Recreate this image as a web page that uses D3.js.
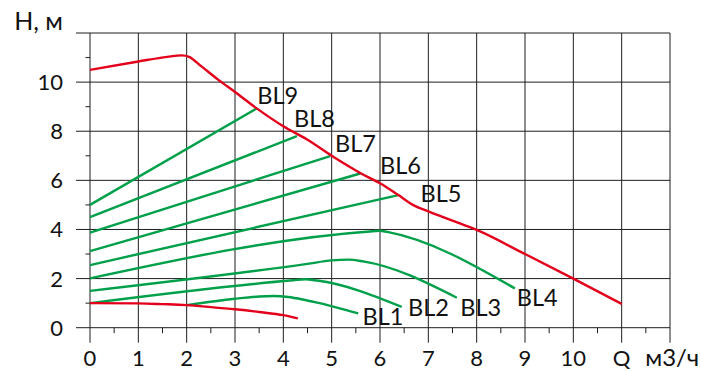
<!DOCTYPE html>
<html>
<head>
<meta charset="utf-8">
<script src="https://cdn.jsdelivr.net/npm/d3@7"></script>
<style>
  html, body { margin: 0; padding: 0; background: #fff; }
  svg { display: block; }
  text { font-family: Lato, "Open Sans", sans-serif; fill: #111; }
</style>
</head>
<body>
<svg id="chart" width="701" height="371"></svg>
<script>
// ---- data ----
const xTicks = [0,1,2,3,4,5,6,7,8,9,10,11,12];
const xTickLabels = ["0","1","2","3","4","5","6","7","8","9","10","Q","м3/ч"];
const yTicks = [0,2,4,6,8,10,12];
const yTickLabels = ["0","2","4","6","8","10",""];
const yTitle = "H, м";

const maxCurve = [[0,10.5],[1,10.84],[1.6,11.03],[1.9,11.09],[2.05,11.03],[2.3,10.65],[2.65,10.1],[3,9.6],[3.45,8.93],[4.0,8.2],[4.5,7.65],[5,7.0],[5.59,6.3],[6,5.88],[6.38,5.4],[6.7,4.98],[7,4.74],[7.5,4.36],[8,3.98],[9,3.0],[10,2.0],[11,0.97]];
const minCurve = [[0,1.0],[1,0.99],[1.5,0.96],[2,0.92],[2.5,0.84],[3,0.75],[3.5,0.64],[4,0.51],[4.3,0.38]];

const seriesNames = ["BL1","BL2","BL3","BL4","BL5","BL6","BL7","BL8","BL9"];
const bl1 = [[2,0.92],[3,1.18],[3.5,1.27],[3.8,1.29],[4.1,1.25],[4.4,1.15],[4.7,1.02],[5.55,0.58]];
const bl2 = [[0,1.0],[4.2,1.93],[4.45,1.97],[4.7,1.92],[6.45,0.85]];
const bl3 = [[0,1.5],[4.5,2.6],[5.0,2.74],[5.35,2.77],[5.65,2.7],[7.59,1.22]];
const bl4 = [[0,2.01],[5.85,3.93],[6.0,3.95],[6.15,3.9],[8.79,1.6]];
const bl5 = [[0,2.55],[6.38,5.4]];
const bl6 = [[0,3.12],[5.59,6.28]];
const bl7 = [[0,3.87],[4.97,6.99]];
const bl8 = [[0,4.5],[4.28,7.8]];
const bl9 = [[0,5.0],[3.45,8.93]];
const greenSeries = [bl1,bl2,bl3,bl4,bl5,bl6,bl7,bl8,bl9];
// label anchor points in data units (q, H)
const labelQ = [5.64,6.58,7.66,8.83,6.84,6.0,5.07,4.22,3.46];
const labelH = [0.11,0.47,0.47,0.88,5.10,6.25,7.14,8.19,9.10];

// ---- drawing ----
const svg = d3.select("#chart");
const x = d3.scaleLinear().domain([0,12]).range([90,670]);
const y = d3.scaleLinear().domain([0,12]).range([327.7,33]);

const gridColor = "#1e1e1e";
const g = svg.append("g");

g.selectAll("line.vg").data(xTicks).enter().append("line")
  .attr("x1", d => x(d)).attr("x2", d => x(d))
  .attr("y1", y(12)).attr("y2", y(0) + 15)
  .attr("stroke", gridColor).attr("stroke-width", 1);
const xMinor = d3.range(0.5, 12, 1);
g.selectAll("line.xm").data(xMinor).enter().append("line")
  .attr("x1", d => x(d)).attr("x2", d => x(d))
  .attr("y1", y(0)).attr("y2", y(0) + 5.5)
  .attr("stroke", gridColor).attr("stroke-width", 1);
g.selectAll("line.hg").data(yTicks).enter().append("line")
  .attr("x1", x(0) - 14).attr("x2", x(12))
  .attr("y1", d => y(d)).attr("y2", d => y(d))
  .attr("stroke", gridColor).attr("stroke-width", 1);
const yMinor = d3.range(1, 12, 2);
g.selectAll("line.ym").data(yMinor).enter().append("line")
  .attr("x1", x(0) - 4.5).attr("x2", x(0))
  .attr("y1", d => y(d)).attr("y2", d => y(d))
  .attr("stroke", gridColor).attr("stroke-width", 1);

// tick labels
svg.selectAll("text.xl").data(xTicks).enter().append("text")
  .attr("x", (d,i) => i === 12 ? 699 : x(d))
  .attr("y", 366)
  .attr("text-anchor", (d,i) => i === 12 ? "end" : "middle")
  .attr("font-size", (d,i) => i === 12 ? 24 : 22)
  .text((d,i) => xTickLabels[i]);

svg.selectAll("text.yl").data(yTicks).enter().append("text")
  .attr("x", 63).attr("y", d => y(d))
  .attr("dy", "0.36em")
  .attr("text-anchor", "end")
  .attr("font-size", 22)
  .text((d,i) => yTickLabels[i]);

svg.append("text").attr("x", 63).attr("y", 30)
  .attr("text-anchor", "end").attr("font-size", 25)
  .text(yTitle);

// curves
const line = d3.line().x(d => x(d[0])).y(d => y(d[1])).curve(d3.curveMonotoneX);
svg.selectAll("path.green").data(greenSeries).enter().append("path")
  .attr("d", line).attr("fill", "none")
  .attr("stroke", "#00a04a").attr("stroke-width", 2.4);
svg.append("path").attr("d", line(maxCurve)).attr("fill", "none")
  .attr("stroke", "#e3001b").attr("stroke-width", 2.4);
svg.append("path").attr("d", line(minCurve)).attr("fill", "none")
  .attr("stroke", "#e3001b").attr("stroke-width", 2.4);

// series labels
svg.selectAll("text.bl").data(seriesNames).enter().append("text")
  .attr("x", (d,i) => x(labelQ[i])).attr("y", (d,i) => y(labelH[i]))
  .attr("font-size", 23.5)
  .text(d => d);
</script>
</body>
</html>
